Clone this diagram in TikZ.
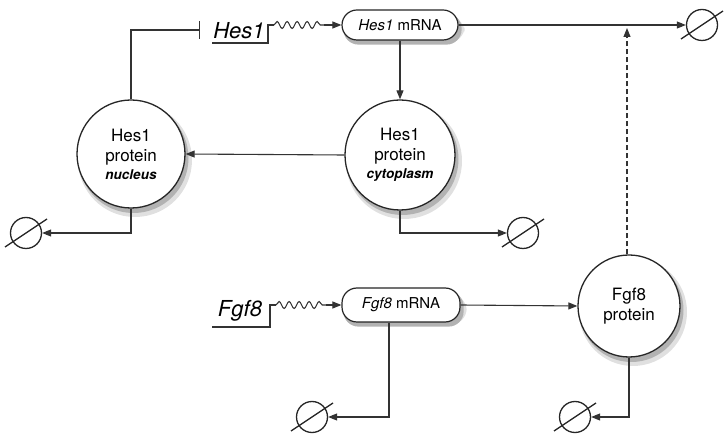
\documentclass[tikz,border=0pt]{standalone}
\usepackage{fontspec}
\setmainfont{TeX Gyre Heros}
\usetikzlibrary{arrows.meta,decorations.pathmorphing,backgrounds}
\begin{document}
\begin{tikzpicture}[x=1pt,y=-1pt,
  prot/.style={circle, draw=black!85, line width=1.3pt, fill=white, align=center, inner sep=0pt,
    font=\fontsize{17}{20}\selectfont},
  rna/.style={draw=black!85, line width=1.2pt, fill=white, rounded corners=15pt, inner sep=0pt,
    font=\fontsize{15}{17}\selectfont},
  deg/.style={circle, draw=black!85, line width=1.3pt, minimum size=31pt, inner sep=0pt},
  gene/.style={font=\itshape\fontsize{22}{25}\selectfont, inner sep=0pt},
  conn/.style={draw=black!80, line width=1.1pt, -{Triangle[length=9pt,width=7pt]}},
  plain/.style={draw=black!80, line width=1.1pt},
  wiggle/.style={draw=black!80, line width=1.1pt, decorate,
    decoration={snake, segment length=10pt, amplitude=3.5pt}},
  shadA/.style={fill=black!12},
  shadB/.style={fill=black!30}
]
\useasboundingbox (0,0) rectangle (726,435);

% nodes
\node[rna, minimum width=116pt, minimum height=30pt] (hm) at (400,25) {\textit{Hes1} mRNA};
\node[rna, minimum width=118pt, minimum height=34pt] (fm) at (401,305) {\textit{Fgf8} mRNA};
\node[prot, minimum size=108pt] (nuc) at (131,154) {Hes1\\protein\\[-2pt]{\fontsize{13.5}{15}\selectfont\bfseries\itshape nucleus}};
\node[prot, minimum size=110pt] (cyt) at (400,155) {Hes1\\protein\\[-2pt]{\fontsize{13.5}{15}\selectfont\bfseries\itshape cytoplasm}};
\node[prot, minimum size=102pt] (fp) at (629,306) {Fgf8\\protein};

% shadows
\begin{scope}[on background layer]
  \fill[shadA] ([shift={(4,6)}]nuc.center) circle (57);
  \fill[shadB] ([shift={(2.5,4)}]nuc.center) circle (55);
  \fill[shadA] ([shift={(4,6)}]cyt.center) circle (58);
  \fill[shadB] ([shift={(2.5,4)}]cyt.center) circle (56);
  \fill[shadA] ([shift={(4,6)}]fp.center) circle (54);
  \fill[shadB] ([shift={(2.5,4)}]fp.center) circle (52);
  \fill[shadA, rounded corners=16pt] ([shift={(1,2)}]hm.south west) rectangle ([shift={(6,7)}]hm.north east);
  \fill[shadB, rounded corners=15pt] ([shift={(2,4)}]hm.south west) rectangle ([shift={(3,4)}]hm.north east);
  \fill[shadA, rounded corners=16pt] ([shift={(1,2)}]fm.south west) rectangle ([shift={(6,7)}]fm.north east);
  \fill[shadB, rounded corners=15pt] ([shift={(2,4)}]fm.south west) rectangle ([shift={(3,4)}]fm.north east);
\end{scope}

\node[gene] (gh) at (239,31) {Hes1};
\node[gene] (gf) at (240,311) {Fgf8};

\node[deg] (d1) at (702,25) {};
\node[deg] (d2) at (26,233) {};
\node[deg] (d3) at (523,233) {};
\node[deg] (d4) at (312,417) {};
\node[deg] (d5) at (575,417) {};
\foreach \d in {d1,d2,d3,d4,d5}
  \draw[draw=black!85, line width=1.3pt] ([shift={(-21,14)}]\d.center) -- ([shift={(21,-14)}]\d.center);

% Hes1 gene
\coordinate (h0) at (212,43);
\coordinate (h1) at (268,43);
\coordinate (h2) at (268,25);
\coordinate (h3) at (274,25);
\coordinate (h4) at (324,25);
\draw[plain] (h0) -- (h1) -- (h2) -- (h3);
\draw[wiggle] (h3) -- (h4);
\draw[conn] (h4) -- (hm.west);

% Fgf8 gene
\coordinate (f0) at (212,327);
\coordinate (f1) at (270,327);
\coordinate (f2) at (270,305);
\coordinate (f3) at (276,305);
\coordinate (f4) at (326,305);
\draw[plain] (f0) -- (f1) -- (f2) -- (f3);
\draw[wiggle] (f3) -- (f4);
\draw[conn] (f4) -- (fm.west);

% inhibition
\coordinate (bar) at (200,30);
\draw[draw=black!80, line width=1.1pt, -{Bar[width=18pt,line width=1.3pt]}] (nuc.north) |- (bar);

% connectors
\draw[conn] (hm.east) -- (d1.west);
\draw[conn] (hm.south) -- (cyt.north);
\draw[conn] (cyt.west) -- (nuc.east);
\draw[conn] (nuc.south) |- (d2.east);
\draw[conn] (cyt.south) |- (d3.west);
\draw[conn] (fm.east) -- (fp.west);
\draw[conn] ([xshift=-12pt]fm.south) |- (d4.east);
\draw[conn] (fp.south) |- (d5.east);
\coordinate (dtop) at (627,28);
\draw[conn, dashed, dash pattern=on 5pt off 3pt] (fp.north -| dtop) -- (dtop);
\end{tikzpicture}
\end{document}
